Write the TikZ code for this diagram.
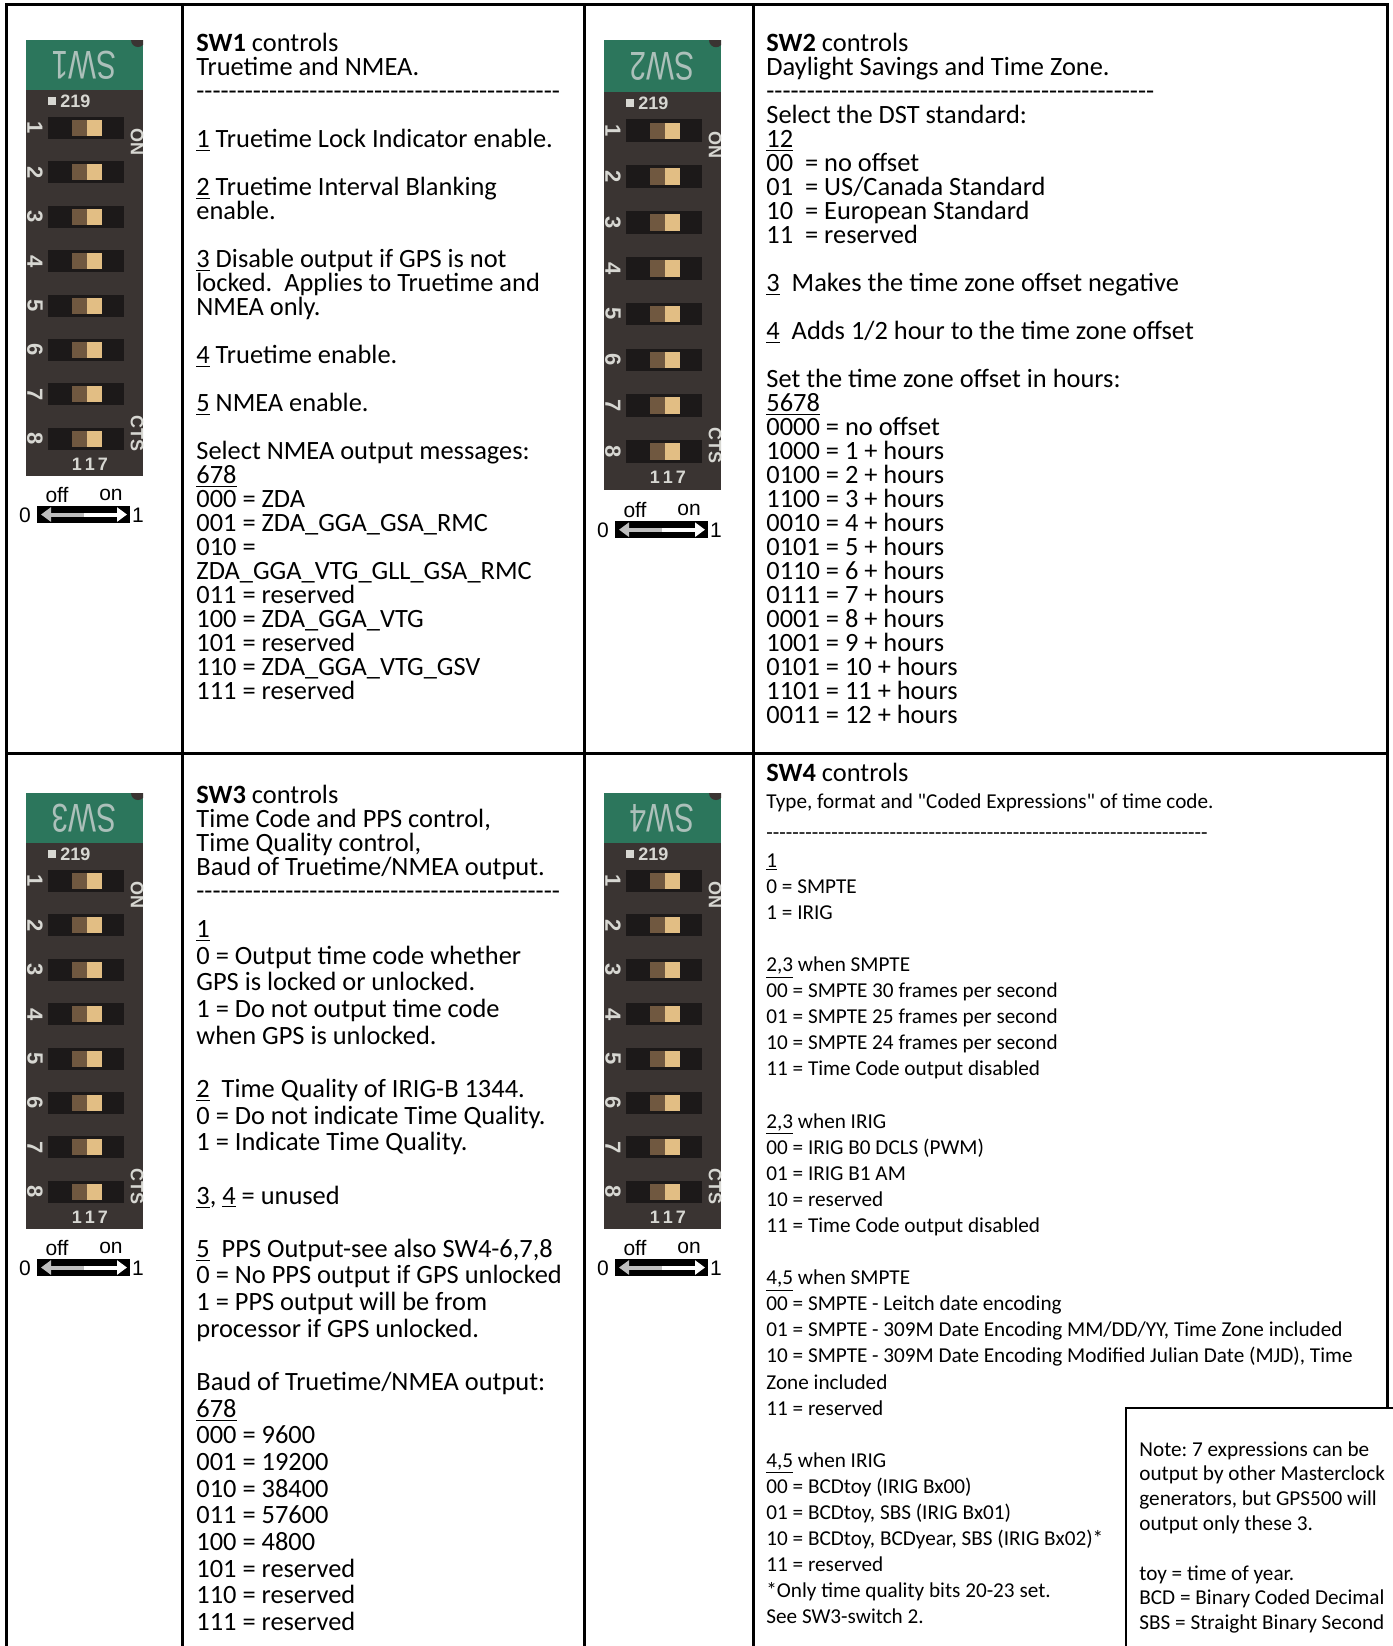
\documentclass[tikz,border=0pt]{standalone}
\usepackage{fontspec}
\setmainfont{Carlito}
\newfontfamily\photofont{Liberation Sans}
\usetikzlibrary{arrows.meta}
\definecolor{swgreen}{RGB}{44,118,92}
\definecolor{swlabel}{RGB}{172,192,186}
\definecolor{swbody}{RGB}{58,52,50}
\definecolor{swslot}{RGB}{28,25,25}
\definecolor{swknob}{RGB}{226,190,132}
\definecolor{swshadow}{RGB}{112,88,64}
\definecolor{swprint}{RGB}{215,215,210}
\definecolor{swgrey}{RGB}{190,190,190}
\newcommand\tightlines{\lineskiplimit=-\maxdimen}
\newcommand\dashrow[1]{\foreach\k in {1,...,#1}{-}}
\frenchspacing
\begin{document}
\begin{tikzpicture}[x=0.5pt,y=-0.5pt,
   grid/.style={line width=1.5pt},
   big/.style={anchor=north west,inner sep=0pt,align=left,
     font={\fontsize{13.2}{12}\selectfont\tightlines}},
   bigloose/.style={big,font={\fontsize{13.2}{13.33}\selectfont\tightlines}},
   small/.style={anchor=north west,inner sep=0pt,align=left,
     font={\fontsize{10.6}{13.05}\selectfont\tightlines}},
   notetext/.style={small,font={\fontsize{10.6}{12.4}\selectfont\tightlines}},
   dipnum/.style={text=swprint,inner sep=0pt,font={\photofont\bfseries\fontsize{11}{11}\selectfont}},
   diptag/.style={text=swprint,inner sep=0pt,font={\photofont\bfseries\fontsize{9}{9}\selectfont}},
   diplabel/.style={rotate=180,xscale=0.74,text=swlabel,inner sep=0pt,
     font={\photofont\fontsize{20}{20}\selectfont}},
   widget/.style={inner sep=0pt,font={\photofont\fontsize{10.5}{10.5}\selectfont}},
   dip/.pic={
     \begin{scope}
       \clip (0,0) rectangle (117,436);
       \fill[swbody] (0,0) rectangle (117,436);
       \fill[swgreen] (0,0) rectangle (117,50);
       \fill[swbody] (112,0) circle (7);
     \end{scope}
     \node[diplabel] (lbl) at (58,25) {#1};
     \fill[swprint] (22,57) rectangle (30,65);
     \node[diptag,anchor=west] (code) at (34,61) {219};
     \foreach \i [evaluate=\i as \yy using 88+44.4*(\i-1)] in {1,...,8}{
       \fill[swslot] (22,\yy-11) rectangle (98,\yy+11);
       \fill[swshadow] (46,\yy-8) rectangle (61,\yy+8);
       \fill[swknob] (61,\yy-8) rectangle (76,\yy+8);
       \node[dipnum,rotate=-90] at (9,\yy) {\i};
     }
     \node[diptag,rotate=-90] (on) at (111,102) {ON};
     \node[diptag,rotate=-90] (cts) at (111,393) {CTS};
     \node[diptag] (bot) at (64,424) {1\,1\,7};
     % off/on key below the photo
     \node[widget] (off) at (31,455) {off};
     \node[widget] (onw) at (85,455) {on};
     \fill (11,466) rectangle (104,483);
     \node[widget] (zero) at (-1,475) {0};
     \node[widget] (one) at (112,475) {1};
     \draw[line width=2pt,swgrey,-{Triangle[length=5pt,width=7pt]}] (58,474.5) -- (15,474.5);
     \draw[line width=2pt,white,-{Triangle[length=5pt,width=7pt]}] (58,474.5) -- (101,474.5);
   }]
\useasboundingbox (0,0) rectangle (1393,1646);
\clip (0,0) rectangle (1393,1646);

% switch photos
\pic (sw1photo) at (26,40) {dip=SW1};
\pic[yscale=1.032] (sw2photo) at (604,40) {dip=SW2};
\pic (sw3photo) at (26,793) {dip=SW3};
\pic (sw4photo) at (604,793) {dip=SW4};

% SW1
\node[big] (sw1text) at (196,33) {\textbf{SW1} controls\\
Truetime and NMEA.\\
\dashrow{45}\\
\\
\underline{1} Truetime Lock Indicator enable.\\
\\
\underline{2} Truetime Interval Blanking\\
enable.\\
\\
\underline{3} Disable output if GPS is not\\
locked.~ Applies to Truetime and\\
NMEA only.\\
\\
\underline{4} Truetime enable.\\
\\
\underline{5} NMEA enable.\\
\\
Select NMEA output messages:\\
\underline{678}\\
000 = ZDA\\
001 = ZDA\_GGA\_GSA\_RMC\\
010 =\\
ZDA\_GGA\_VTG\_GLL\_GSA\_RMC\\
011 = reserved\\
100 = ZDA\_GGA\_VTG\\
101 = reserved\\
110 = ZDA\_GGA\_VTG\_GSV\\
111 = reserved};

% SW2
\node[big] (sw2text) at (766,33) {\textbf{SW2} controls\\
Daylight Savings and Time Zone.\\
\dashrow{48}\\
Select the DST standard:\\
\underline{12}\\
00~ = no offset\\
01~ = US/Canada Standard\\
10~ = European Standard\\
11~ = reserved\\
\\
\underline{3}~ Makes the time zone offset negative\\
\\
\underline{4}~ Adds 1/2 hour to the time zone offset\\
\\
Set the time zone offset in hours:\\
\underline{5678}\\
0000 = no offset\\
1000 = 1 + hours\\
0100 = 2 + hours\\
1100 = 3 + hours\\
0010 = 4 + hours\\
0101 = 5 + hours\\
0110 = 6 + hours\\
0111 = 7 + hours\\
0001 = 8 + hours\\
1001 = 9 + hours\\
0101 = 10 + hours\\
1101 = 11 + hours\\
0011 = 12 + hours};

% SW3
\node[big] (sw3head) at (196,785) {\textbf{SW3} controls\\
Time Code and PPS control,\\
Time Quality control,\\
Baud of Truetime/NMEA output.\\
\dashrow{45}};
\node[bigloose] (sw3text) at (196,920) {\underline{1}\\
0 = Output time code whether\\
GPS is locked or unlocked.\\
1 = Do not output time code\\
when GPS is unlocked.\\
\\
\underline{2}~ Time Quality of IRIG-B 1344.\\
0 = Do not indicate Time Quality.\\
1 = Indicate Time Quality.\\
\\
\underline{3}, \underline{4} = unused\\
\\
\underline{5}~ PPS Output-see also SW4-6,7,8\\
0 = No PPS output if GPS unlocked\\
1 = PPS output will be from\\
processor if GPS unlocked.\\
\\
Baud of Truetime/NMEA output:\\
\underline{678}\\
000 = 9600\\
001 = 19200\\
010 = 38400\\
011 = 57600\\
100 = 4800\\
101 = reserved\\
110 = reserved\\
111 = reserved};

% SW4
\node[big] (sw4head) at (766,763) {\textbf{SW4} controls};
\node[small,font={\fontsize{10.6}{15.5}\selectfont\tightlines}] (sw4sub) at (766,793)
  {Type, format and \textquotedbl Coded Expressions\textquotedbl{} of time code.\\
\dashrow{68}};
\node[small] (sw4text) at (766,853) {\underline{1}\\
0 = SMPTE\\
1 = IRIG\\
\\
\underline{2,3} when SMPTE\\
00 = SMPTE 30 frames per second\\
01 = SMPTE 25 frames per second\\
10 = SMPTE 24 frames per second\\
11 = Time Code output disabled\\
\\
\underline{2,3} when IRIG\\
00 = IRIG B0 DCLS (PWM)\\
01 = IRIG B1 AM\\
10 = reserved\\
11 = Time Code output disabled\\
\\
\underline{4,5} when SMPTE\\
00 = SMPTE - Leitch date encoding\\
01 = SMPTE - 309M Date Encoding MM/DD/YY, Time Zone included\\
10 = SMPTE - 309M Date Encoding Modified Julian Date (MJD), Time\\
Zone included\\
11 = reserved\\
\\
\underline{4,5} when IRIG\\
00 = BCDtoy (IRIG Bx00)\\
01 = BCDtoy, SBS (IRIG Bx01)\\
10 = BCDtoy, BCDyear, SBS (IRIG Bx02)*\\
11 = reserved\\
*Only time quality bits 20-23 set.\\
See SW3-switch 2.};

% table rules
\draw[grid] (6,1660) -- (6,4) -- (1387,4) -- (1387,1410);
\draw[grid] (6,753) -- (1387,753);
\draw[grid] (182,4) -- (182,1660);
\draw[grid] (584,4) -- (584,1660);
\draw[grid] (753,4) -- (753,1660);

% note box
\draw[line width=1.2pt,fill=white] (1126,1408) rectangle (1450,1700);
\node[notetext] (note) at (1139,1441) {Note: 7 expressions can be\\
output by other Masterclock\\
generators, but GPS500 will\\
output only these 3.\\
\\
toy = time of year.\\
BCD = Binary Coded Decimal\\
SBS = Straight Binary Second};
\end{tikzpicture}
\end{document}
